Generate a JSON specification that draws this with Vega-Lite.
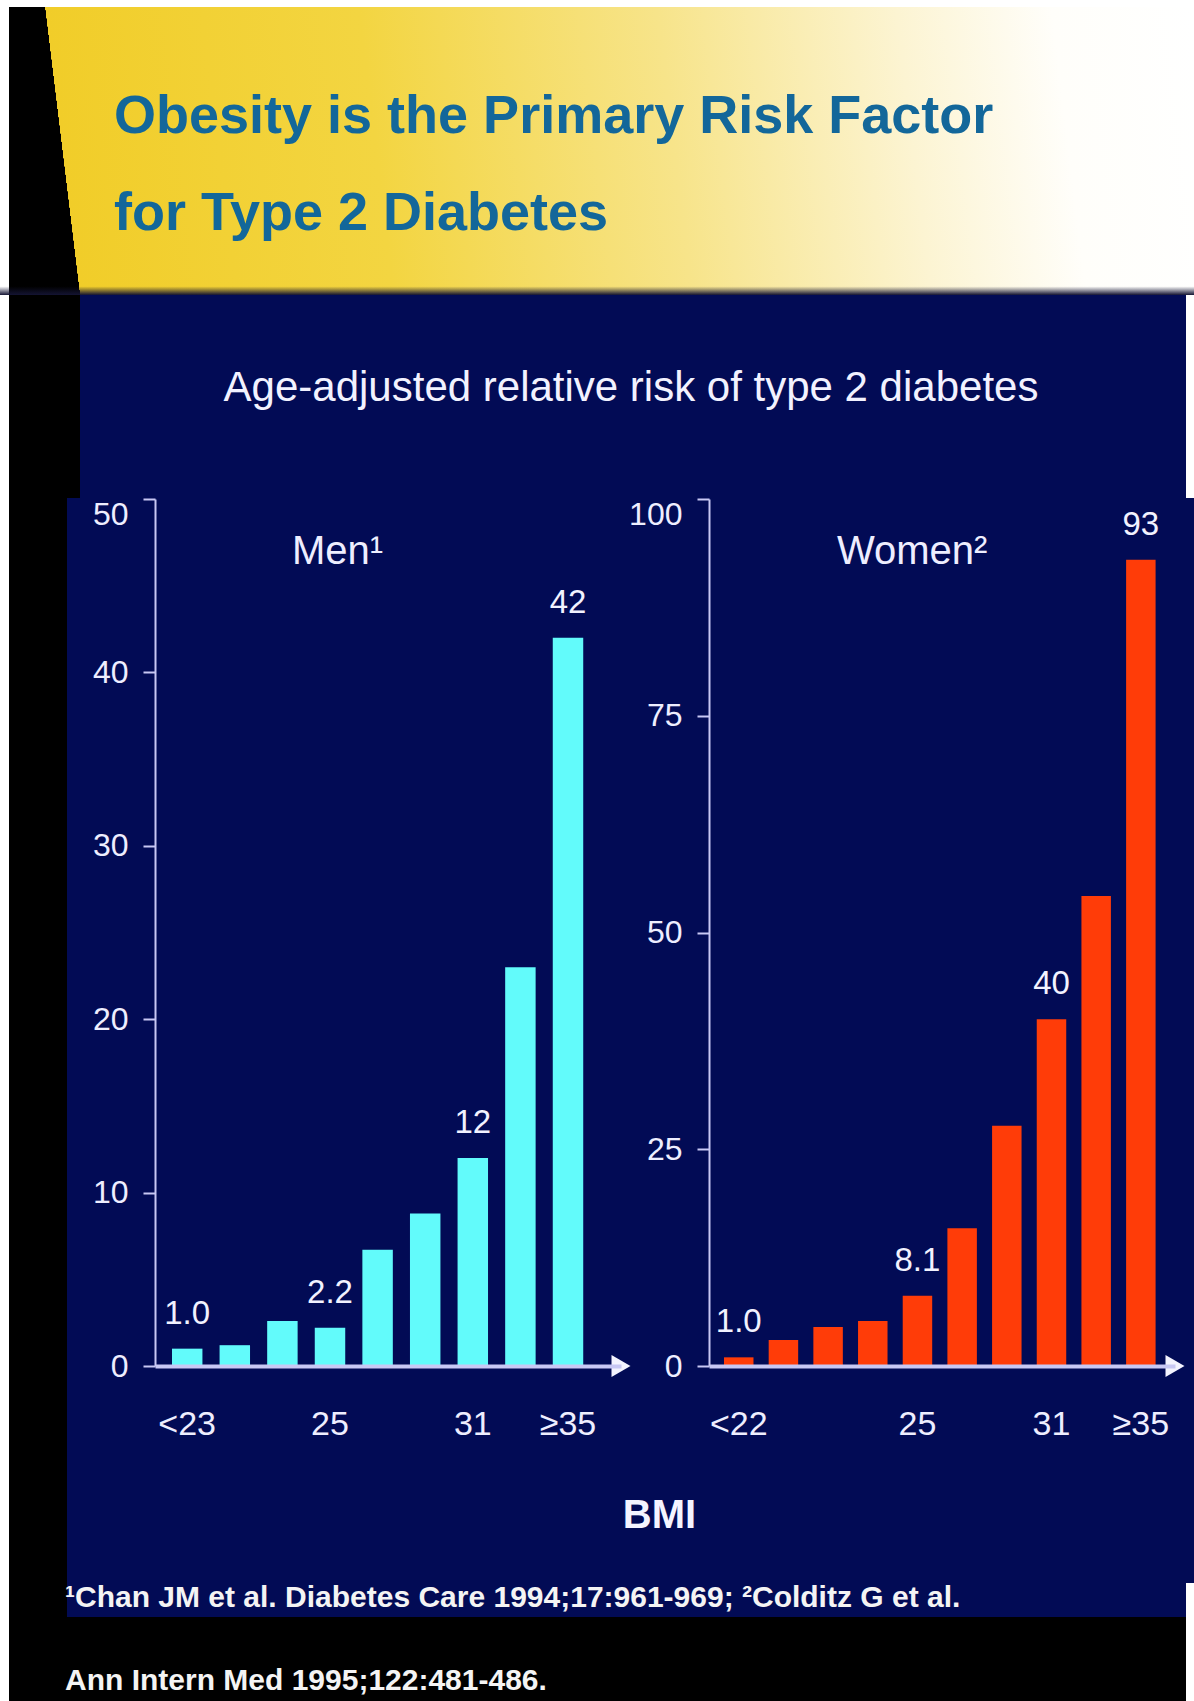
{
  "$schema": "https://vega.github.io/schema/vega-lite/v6.json",
  "background": "#020b55",
  "padding": 0,
  "spacing": 0,
  "config": {
    "view": {"stroke": null},
    "axis": {"grid": false, "labelOverlap": false, "labelFlush": false}
  },
  "vconcat": [
    {
      "width": 1194,
      "height": 7,
      "data": {"values": [{}]},
      "mark": {"type": "rect", "color": "#ffffff"},
      "encoding": {}
    },
    {
      "width": 1194,
      "height": 288,
      "title": {
        "text": ["Obesity is the Primary Risk Factor", "for Type 2 Diabetes"],
        "anchor": "start",
        "frame": "group",
        "orient": "top",
        "baseline": "alphabetic",
        "offset": -277,
        "dx": 114,
        "font": "Liberation Sans",
        "fontSize": 54,
        "fontWeight": "bold",
        "color": "#13679a",
        "lineHeight": 97
      },
      "data": {"values": [{}]},
      "layer": [
        {
          "mark": {
            "type": "rect",
            "color": {
              "gradient": "linear",
              "x1": 0, "y1": 0, "x2": 1, "y2": -0.0293,
              "stops": [
                {"offset": 0, "color": "#000000"},
                {"offset": 0.0377, "color": "#000000"},
                {"offset": 0.0378, "color": "#f1cd29"},
                {"offset": 0.3, "color": "#f3d541"},
                {"offset": 0.55, "color": "#f7e48a"},
                {"offset": 0.75, "color": "#fcf4d2"},
                {"offset": 0.88, "color": "#fffefa"},
                {"offset": 1, "color": "#ffffff"}
              ]
            }
          },
          "encoding": {}
        },
        {
          "mark": {
            "type": "rect",
            "color": {
              "gradient": "linear",
              "x1": 0, "y1": 0, "x2": 1, "y2": 0,
              "stops": [
                {"offset": 0, "color": "#ffffff"},
                {"offset": 0.0075, "color": "#ffffff"},
                {"offset": 0.0076, "color": "rgba(255,255,255,0)"},
                {"offset": 1, "color": "rgba(255,255,255,0)"}
              ]
            }
          },
          "encoding": {}
        },
        {
          "mark": {
            "type": "rect",
            "color": {
              "gradient": "linear",
              "x1": 0, "y1": 0, "x2": 0, "y2": 1,
              "stops": [
                {"offset": 0, "color": "rgba(20,20,51,0)"},
                {"offset": 0.97, "color": "rgba(20,20,51,0)"},
                {"offset": 1, "color": "#141433"}
              ]
            }
          },
          "encoding": {}
        }
      ]
    },
    {
      "width": 1194,
      "height": 203,
      "title": {
        "text": "Age-adjusted relative risk of type 2 diabetes",
        "anchor": "middle",
        "frame": "group",
        "orient": "top",
        "baseline": "alphabetic",
        "offset": -148,
        "dx": 34,
        "font": "Liberation Sans",
        "fontSize": 42,
        "fontWeight": "normal",
        "color": "#f2f2ff"
      },
      "data": {"values": [{}]},
      "mark": {
        "type": "rect",
        "color": {
          "gradient": "linear",
          "x1": 0, "y1": 0, "x2": 1, "y2": 0,
          "stops": [
            {"offset": 0, "color": "#ffffff"},
            {"offset": 0.0075, "color": "#ffffff"},
            {"offset": 0.0076, "color": "#000000"},
            {"offset": 0.067, "color": "#000000"},
            {"offset": 0.0671, "color": "#020b55"},
            {"offset": 0.9933, "color": "#020b55"},
            {"offset": 0.9934, "color": "#ffffff"},
            {"offset": 1, "color": "#ffffff"}
          ]
        }
      },
      "encoding": {}
    },
    {
      "spacing": 88,
      "bounds": "flush",
      "hconcat": [
        {
          "width": 67,
          "height": 1085,
          "data": {"values": [{}]},
          "mark": {
            "type": "rect",
            "color": {
              "gradient": "linear",
              "x1": 0, "y1": 0, "x2": 1, "y2": 0,
              "stops": [
                {"offset": 0, "color": "#ffffff"},
                {"offset": 0.134, "color": "#ffffff"},
                {"offset": 0.135, "color": "#000000"},
                {"offset": 1, "color": "#000000"}
              ]
            }
          },
          "encoding": {}
        },
        {
          "width": 466,
          "height": 868,
          "title": {
            "text": "Men¹",
            "anchor": "start",
            "frame": "group",
            "orient": "top",
            "baseline": "alphabetic",
            "offset": -106,
            "dx": 137,
            "font": "Liberation Sans",
            "fontSize": 40,
            "fontWeight": "normal",
            "color": "#eeeeff"
          },
          "data": {
            "values": [
              {"bmi": "<23", "rr": 1.0, "label": "1.0"},
              {"bmi": "23–23.9", "rr": 1.2},
              {"bmi": "24–24.9", "rr": 2.6},
              {"bmi": "25–26.9", "rr": 2.2, "label": "2.2"},
              {"bmi": "27–28.9", "rr": 6.7},
              {"bmi": "29–30.9", "rr": 8.8},
              {"bmi": "31–32.9", "rr": 12, "label": "12"},
              {"bmi": "33–34.9", "rr": 23.0},
              {"bmi": "≥35", "rr": 42, "label": "42"}
            ]
          },
          "encoding": {
            "x": {
              "field": "bmi",
              "type": "nominal",
              "sort": null,
              "scale": {"paddingInner": 0.36, "paddingOuter": 0.575, "align": 0.31},
              "axis": {
                "title": "BMI",
                "titleX": 504,
                "titleY": 161,
                "titleAlign": "center",
                "titleBaseline": "alphabetic",
                "titleFont": "Liberation Sans",
                "titleFontSize": 40,
                "titleFontWeight": "bold",
                "titleColor": "#f4f4ff",
                "labelExpr": "datum.value == '<23' ? '<23' : datum.value == '25–26.9' ? '25' : datum.value == '31–32.9' ? '31' : datum.value == '≥35' ? '≥35' : ''",
                "labelAngle": 0,
                "labelFont": "Liberation Sans",
                "labelFontSize": 34,
                "labelColor": "#eeeeff",
                "labelBaseline": "alphabetic",
                "labelPadding": 68,
                "ticks": false,
                "tickSize": 0,
                "domainColor": "#c8c8f4",
                "domainWidth": 4,
                "zindex": 1
              }
            }
          },
          "layer": [
            {
              "mark": {"type": "bar", "color": "#62fbfb"},
              "encoding": {
                "y": {
                  "field": "rr",
                  "type": "quantitative",
                  "scale": {"domain": [0, 50], "nice": false, "range": [868, 1]},
                  "axis": {
                    "values": [0, 10, 20, 30, 40, 50],
                    "title": null,
                    "tickSize": 12,
                    "tickWidth": 2,
                    "tickColor": "#c8c8f4",
                    "domainColor": "#c8c8f4",
                    "domainWidth": 2,
                    "labelFont": "Liberation Sans",
                    "labelFontSize": 32,
                    "labelColor": "#eeeeff",
                    "labelPadding": 15,
                    "labelBaseline": {"condition": {"test": "datum.value == 50", "value": "top"}, "value": "middle"}
                  }
                }
              }
            },
            {
              "transform": [{"filter": "isValid(datum.label)"}],
              "mark": {
                "type": "text",
                "dy": -25,
                "baseline": "alphabetic",
                "font": "Liberation Sans",
                "fontSize": 33,
                "color": "#f2f2ff"
              },
              "encoding": {
                "y": {"field": "rr", "type": "quantitative"},
                "text": {"field": "label"}
              }
            },
            {
              "data": {"values": [{}]},
              "mark": {"type": "point", "shape": "triangle-right", "filled": true, "size": 480, "color": "#f4f4ff", "opacity": 1},
              "encoding": {"x": {"value": "width"}, "y": {"value": "height"}}
            }
          ]
        },
        {
          "width": 466,
          "height": 868,
          "title": {
            "text": "Women²",
            "anchor": "start",
            "frame": "group",
            "orient": "top",
            "baseline": "alphabetic",
            "offset": -106,
            "dx": 128,
            "font": "Liberation Sans",
            "fontSize": 40,
            "fontWeight": "normal",
            "color": "#eeeeff"
          },
          "data": {
            "values": [
              {"bmi": "<22", "rr": 1.0, "label": "1.0"},
              {"bmi": "22–22.9", "rr": 3.0},
              {"bmi": "23–23.9", "rr": 4.5},
              {"bmi": "24–24.9", "rr": 5.2},
              {"bmi": "25–26.9", "rr": 8.1, "label": "8.1"},
              {"bmi": "27–28.9", "rr": 15.9},
              {"bmi": "29–30.9", "rr": 27.7},
              {"bmi": "31–32.9", "rr": 40, "label": "40"},
              {"bmi": "33–34.9", "rr": 54.2},
              {"bmi": "≥35", "rr": 93, "label": "93"}
            ]
          },
          "encoding": {
            "x": {
              "field": "bmi",
              "type": "nominal",
              "sort": null,
              "scale": {"paddingInner": 0.34, "paddingOuter": 0.385, "align": 0.436},
              "axis": {
                "title": null,
                "labelExpr": "datum.value == '<22' ? '<22' : datum.value == '25–26.9' ? '25' : datum.value == '31–32.9' ? '31' : datum.value == '≥35' ? '≥35' : ''",
                "labelAngle": 0,
                "labelFont": "Liberation Sans",
                "labelFontSize": 34,
                "labelColor": "#eeeeff",
                "labelBaseline": "alphabetic",
                "labelPadding": 68,
                "ticks": false,
                "tickSize": 0,
                "domainColor": "#c8c8f4",
                "domainWidth": 4,
                "zindex": 1
              }
            }
          },
          "layer": [
            {
              "mark": {"type": "bar", "color": "#ff3c08"},
              "encoding": {
                "y": {
                  "field": "rr",
                  "type": "quantitative",
                  "scale": {"domain": [0, 100], "nice": false, "range": [868, 1]},
                  "axis": {
                    "values": [0, 25, 50, 75, 100],
                    "title": null,
                    "tickSize": 12,
                    "tickWidth": 2,
                    "tickColor": "#c8c8f4",
                    "domainColor": "#c8c8f4",
                    "domainWidth": 2,
                    "labelFont": "Liberation Sans",
                    "labelFontSize": 32,
                    "labelColor": "#eeeeff",
                    "labelPadding": 15,
                    "labelBaseline": {"condition": {"test": "datum.value == 100", "value": "top"}, "value": "middle"}
                  }
                }
              }
            },
            {
              "transform": [{"filter": "isValid(datum.label)"}],
              "mark": {
                "type": "text",
                "dy": -25,
                "baseline": "alphabetic",
                "font": "Liberation Sans",
                "fontSize": 33,
                "color": "#f2f2ff"
              },
              "encoding": {
                "y": {"field": "rr", "type": "quantitative"},
                "text": {"field": "label"}
              }
            },
            {
              "data": {"values": [{}]},
              "mark": {"type": "point", "shape": "triangle-right", "filled": true, "size": 480, "color": "#f4f4ff", "opacity": 1},
              "encoding": {"x": {"value": "width"}, "y": {"value": "height"}}
            }
          ]
        }
      ]
    },
    {
      "width": 1194,
      "height": 118,
      "title": {
        "text": ["¹Chan JM et al. Diabetes Care 1994;17:961-969; ²Colditz G et al.", "Ann Intern Med 1995;122:481-486."],
        "anchor": "start",
        "frame": "group",
        "orient": "top",
        "baseline": "alphabetic",
        "offset": -137,
        "dx": 65,
        "font": "Liberation Sans",
        "fontSize": 30,
        "fontWeight": "bold",
        "color": "#f4f4f4",
        "lineHeight": 83
      },
      "data": {"values": [{}]},
      "layer": [
        {
          "mark": {
            "type": "rect",
            "color": {
              "gradient": "linear",
              "x1": 0, "y1": 0, "x2": 0, "y2": 1,
              "stops": [
                {"offset": 0, "color": "rgba(0,0,0,0)"},
                {"offset": 0.288, "color": "rgba(0,0,0,0)"},
                {"offset": 0.289, "color": "#000000"},
                {"offset": 1, "color": "#000000"}
              ]
            }
          },
          "encoding": {}
        },
        {
          "mark": {
            "type": "rect",
            "color": {
              "gradient": "linear",
              "x1": 0, "y1": 0, "x2": 1, "y2": 0,
              "stops": [
                {"offset": 0, "color": "#ffffff"},
                {"offset": 0.0075, "color": "#ffffff"},
                {"offset": 0.0076, "color": "#000000"},
                {"offset": 0.056, "color": "#000000"},
                {"offset": 0.0561, "color": "rgba(0,0,0,0)"},
                {"offset": 0.9933, "color": "rgba(0,0,0,0)"},
                {"offset": 0.9934, "color": "#ffffff"},
                {"offset": 1, "color": "#ffffff"}
              ]
            }
          },
          "encoding": {}
        }
      ]
    }
  ]
}
